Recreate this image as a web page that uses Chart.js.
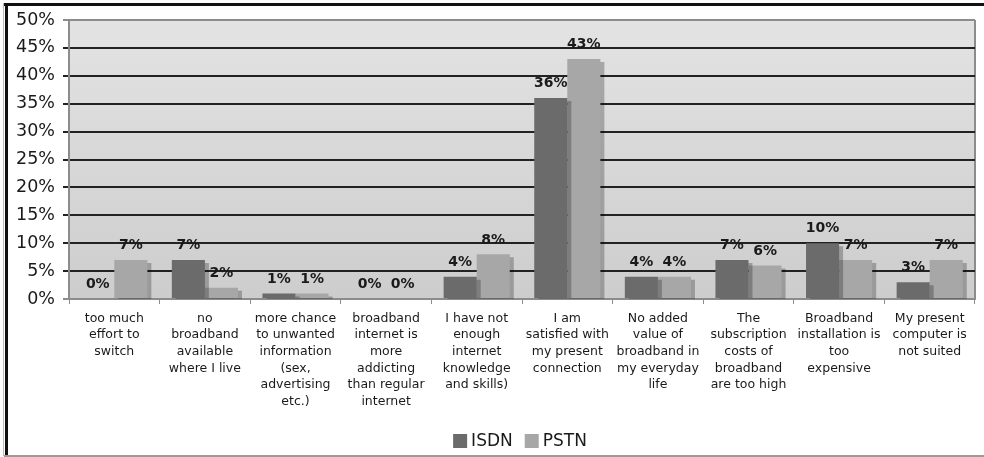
<!DOCTYPE html>
<html>
<head>
<meta charset="utf-8">
<script src="https://cdn.jsdelivr.net/npm/chart.js@4.4.0/dist/chart.umd.min.js"></script>
<style>
  html, body { margin: 0; padding: 0; background: #fff; }
  #wrap { position: relative; width: 984px; height: 457px; }
</style>
</head>
<body>
<div id="wrap"><canvas id="reasonsChart" width="984" height="457"></canvas></div>
<script>
// reasons for not switching to broadband, % of respondents
const categories = [
  ['too much', 'effort to', 'switch'],
  ['no', 'broadband', 'available', 'where I live'],
  ['more chance', 'to unwanted', 'information', '(sex,', 'advertising', 'etc.)'],
  ['broadband', 'internet is', 'more', 'addicting', 'than regular', 'internet'],
  ['I have not', 'enough', 'internet', 'knowledge', 'and skills)'],
  ['I am', 'satisfied with', 'my present', 'connection'],
  ['No added', 'value of', 'broadband in', 'my everyday', 'life'],
  ['The', 'subscription', 'costs of', 'broadband', 'are too high'],
  ['Broadband', 'installation is', 'too', 'expensive'],
  ['My present', 'computer is', 'not suited']
];
const seriesNames = ['ISDN', 'PSTN'];
const isdnValues = [0, 7, 1, 0, 4, 36, 4, 7, 10, 3];
const pstnValues = [7, 2, 1, 0, 8, 43, 4, 6, 7, 7];
const yMax = 50;
const yStep = 5;

const FONT = '"DejaVu Sans", Verdana, sans-serif';
const ISDN_COLOR = '#6b6b6b';
const PSTN_COLOR = '#a7a7a7';

// frame, plot background, bar shadows, value labels and legend
const decorPlugin = {
  id: 'decor',
  beforeDraw(chart) {
    const ctx = chart.ctx;
    const a = chart.chartArea;
    ctx.save();
    ctx.fillStyle = '#fff';
    ctx.fillRect(0, 0, chart.width, chart.height);
    const g = ctx.createLinearGradient(0, a.top, 0, a.bottom);
    g.addColorStop(0, '#e3e3e3');
    g.addColorStop(1, '#cdcdcd');
    ctx.fillStyle = g;
    ctx.fillRect(a.left, a.top, a.right - a.left, a.bottom - a.top);
    ctx.strokeStyle = '#8c8c8c';
    ctx.lineWidth = 2;
    ctx.beginPath();
    ctx.moveTo(a.right, a.top);
    ctx.lineTo(a.right, a.bottom);
    ctx.stroke();
    ctx.restore();
  },
  beforeDatasetsDraw(chart) {
    const ctx = chart.ctx;
    ctx.save();
    ctx.shadowColor = 'rgba(0,0,0,0.25)';
    ctx.shadowOffsetX = 4;
    ctx.shadowOffsetY = 3;
    ctx.shadowBlur = 0;
  },
  afterDatasetsDraw(chart) {
    const ctx = chart.ctx;
    ctx.restore();
    ctx.save();
    ctx.font = 'bold 14px ' + FONT;
    ctx.fillStyle = '#1a1a1a';
    ctx.textAlign = 'center';
    ctx.textBaseline = 'middle';
    chart.data.datasets.forEach((ds, i) => {
      chart.getDatasetMeta(i).data.forEach((el, j) => {
        ctx.fillText(ds.data[j] + '%', el.x, el.y - 14.5);
      });
    });
    ctx.restore();
  },
  afterDraw(chart) {
    const ctx = chart.ctx;
    const a = chart.chartArea;
    ctx.save();
    // legend
    ctx.font = '17px ' + FONT;
    ctx.textBaseline = 'middle';
    ctx.textAlign = 'left';
    const box = 14, gap = 4, itemGap = 12;
    const colors = chart.data.datasets.map(d => d.backgroundColor);
    const widths = seriesNames.map(n => ctx.measureText(n).width);
    let total = 0;
    widths.forEach((w, i) => { total += box + gap + w + (i ? itemGap : 0); });
    let x = (a.left + a.right) / 2 - total / 2 - 2;
    const cy = 441;
    seriesNames.forEach((n, i) => {
      ctx.fillStyle = colors[i];
      ctx.fillRect(x, cy - box / 2, box, box);
      ctx.fillStyle = '#1a1a1a';
      ctx.fillText(n, x + box + gap, cy + 1);
      x += box + gap + widths[i] + itemGap;
    });
    // outer frame
    ctx.fillStyle = '#111';
    ctx.fillRect(4, 3, chart.width - 4, 3);
    ctx.fillRect(5, 3, 3, chart.height - 4);
    ctx.fillStyle = '#bbb';
    ctx.fillRect(3, 3, 1, chart.height - 4);
    ctx.fillStyle = '#9a9a9a';
    ctx.fillRect(4, chart.height - 2, chart.width - 4, 2);
    ctx.restore();
  }
};

new Chart(document.getElementById('reasonsChart'), {
  type: 'bar',
  data: {
    labels: categories,
    datasets: [
      { label: seriesNames[0], data: isdnValues, backgroundColor: ISDN_COLOR },
      { label: seriesNames[1], data: pstnValues, backgroundColor: PSTN_COLOR }
    ]
  },
  options: {
    responsive: false,
    animation: false,
    devicePixelRatio: 1,
    layout: { padding: { top: 20, right: 9, bottom: 46, left: 0 } },
    datasets: { bar: { categoryPercentage: 0.73, barPercentage: 1.0 } },
    plugins: {
      legend: { display: false },
      tooltip: { enabled: false }
    },
    scales: {
      x: {
        afterFit: (s) => { s.height = 112; },
        grid: { drawOnChartArea: false, drawTicks: true, tickLength: 5, color: '#8c8c8c', offset: true },
        border: { color: '#8c8c8c', width: 2 },
        ticks: {
          padding: 6,
          color: '#1a1a1a',
          maxRotation: 0,
          autoSkip: false,
          font: { family: FONT, size: 12.5, lineHeight: '16.7px' }
        }
      },
      y: {
        min: 0,
        max: yMax,
        afterFit: (s) => { s.width = 69; },
        grid: {
          tickLength: 6,
          lineWidth: 2,
          color: (c) => (c.tick && (c.tick.value === 0 || c.tick.value === yMax)) ? '#8c8c8c' : '#222'
        },
        border: { color: '#8c8c8c', width: 2 },
        ticks: {
          stepSize: yStep,
          padding: 8,
          color: '#1a1a1a',
          font: { family: FONT, size: 17.5 },
          callback: (v) => v + '%'
        }
      }
    }
  },
  plugins: [decorPlugin]
});
</script>
</body>
</html>
